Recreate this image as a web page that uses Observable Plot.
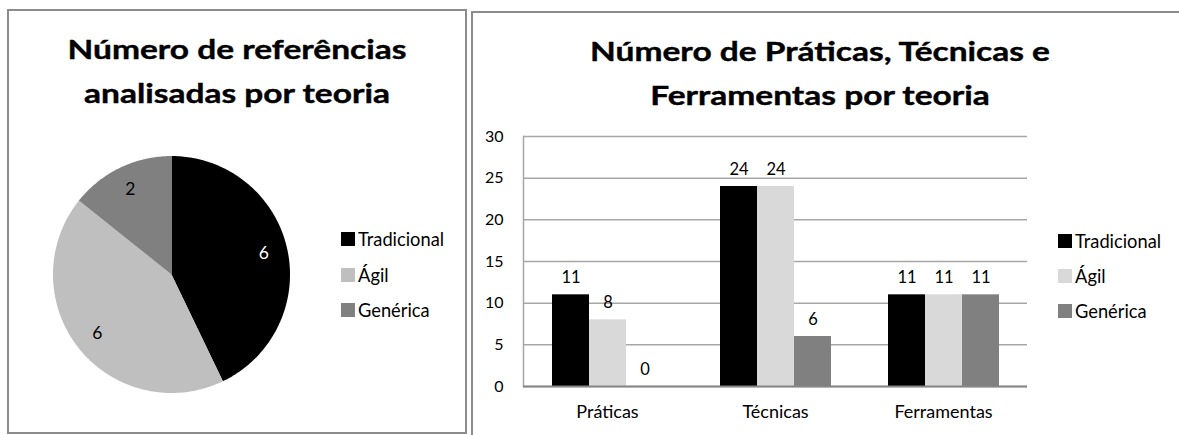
<!DOCTYPE html>
<html>
<head>
<meta charset="utf-8">
<script src="https://cdn.jsdelivr.net/npm/d3@7"></script>
<script src="https://cdn.jsdelivr.net/npm/@observablehq/plot@0.6"></script>
<style>
  html, body { margin: 0; padding: 0; background: #fff; }
  body { width: 1179px; height: 435px; overflow: hidden; position: relative; font-family: Lato, "Open Sans", sans-serif; color: #000; }
  .panel { position: absolute; box-sizing: border-box; border: 2px solid #8c8c8c; }
  .title { position: absolute; text-align: center; font-weight: bold; font-size: 27px; line-height: 44px; white-space: nowrap; transform: scaleX(1.24); transform-origin: center; -webkit-text-stroke: 0.4px #000; }
  .legend { position: absolute; font-size: 18.3px; }
  .legend .item { position: absolute; left: 0; display: flex; align-items: center; white-space: nowrap; height: 20px; }
  .legend .sw { width: 14px; height: 14px; margin-right: 3px; }
  .chart { position: absolute; }
</style>
</head>
<body>
<div class="panel" style="left:7px; top:9px; width:460px; height:425px;"></div>
<div class="panel" style="left:471px; top:11px; width:800px; height:500px;"></div>

<div class="title" style="left:7px; width:460px; top:27px;">Número de referências<br>analisadas por teoria</div>
<div class="title" style="left:620px; width:400px; top:29px;">Número de Práticas, Técnicas e<br>Ferramentas por teoria</div>

<div id="pie" class="chart"></div>
<div id="pieLegend" class="legend" style="left:341px; top:229px;"></div>
<div id="bar" class="chart"></div>
<div id="barLegend" class="legend" style="left:1058px; top:231px;"></div>

<script>
// ---- Data ----
const pieSeries = ["Tradicional", "Ágil", "Genérica"];
const pieValues = [6, 6, 2];

const barCategories = ["Práticas", "Técnicas", "Ferramentas"];
const barSeries = ["Tradicional", "Ágil", "Genérica"];
const tradicionalValues = [11, 24, 11];
const agilValues = [8, 24, 11];
const genericaValues = [0, 6, 11];
const yTicks = [0, 5, 10, 15, 20, 25, 30];

// ---- Styles ----
const pieColors = ["#000000", "#bfbfbf", "#808080"];
const barColors = ["#000000", "#d9d9d9", "#808080"];
const FONT = "Lato, 'Open Sans', sans-serif";

// ---- Pie chart ----
const pieRows = pieSeries.map((k, i) => ({key: k, value: pieValues[i]}));
const arcs = d3.pie().sort(null).value(d => d.value)(pieRows);
const slicePoints = [];
const pieLabels = [];
arcs.forEach(a => {
  const key = a.data.key;
  slicePoints.push({key, x: 0, y: 0});
  const n = Math.max(2, Math.ceil((a.endAngle - a.startAngle) / (Math.PI / 180)));
  for (let i = 0; i <= n; i++) {
    const t = a.startAngle + (a.endAngle - a.startAngle) * i / n;
    slicePoints.push({key, x: Math.sin(t), y: Math.cos(t)});
  }
  const mid = (a.startAngle + a.endAngle) / 2;
  pieLabels.push({key, value: a.data.value, x: 0.8 * Math.sin(mid), y: 0.8 * Math.cos(mid)});
});

const R = 118.5, S = 240, C = S / 2;
const pie = Plot.plot({
  width: S, height: S, margin: 0,
  style: {fontFamily: FONT, fontSize: "17px", background: "transparent", overflow: "visible"},
  x: {domain: [-1, 1], range: [C - R, C + R], axis: null},
  y: {domain: [-1, 1], range: [C + R, C - R], axis: null},
  color: {domain: pieSeries, range: pieColors},
  marks: [
    Plot.line(slicePoints, {x: "x", y: "y", z: "key", fill: "key", stroke: "none", curve: "linear-closed"}),
    ...pieLabels.map(l => Plot.text([l], {x: "x", y: "y", text: d => String(d.value), fill: l.key === "Tradicional" ? "#ffffff" : "#000000", fontSize: 17.5}))
  ]
});
const pieDiv = document.getElementById("pie");
pieDiv.style.left = (170.5 - C) + "px";
pieDiv.style.top = (273.5 - C) + "px";
pieDiv.appendChild(pie);

// ---- Bar chart ----
const seriesValues = [tradicionalValues, agilValues, genericaValues];
const barRows = barCategories.flatMap((c, i) => barSeries.map((s, j) => ({category: c, series: s, value: seriesValues[j][i]})));

const bar = Plot.plot({
  width: 560, height: 310,
  marginLeft: 51, marginRight: 5, marginTop: 16, marginBottom: 44,
  style: {fontFamily: FONT, fontSize: "16px", background: "transparent", color: "#000", overflow: "visible"},
  fx: {domain: barCategories, padding: 0, label: null, axis: null},
  x: {domain: barSeries, paddingInner: 0, paddingOuter: 0.75, axis: null},
  y: {domain: [0, 30], ticks: yTicks, label: null, tickSize: 0, tickPadding: 20},
  color: {domain: barSeries, range: barColors},
  marks: [
    Plot.gridY(yTicks, {stroke: "#a6a6a6", strokeOpacity: 1, strokeWidth: 1.5}),
    Plot.frame({anchor: "left", facetAnchor: "left", stroke: "#a6a6a6", strokeWidth: 1.5}),
    Plot.barY(barRows, {fx: "category", x: "series", y: "value", fill: "series"}),
    Plot.ruleY([0], {stroke: "#868686", strokeWidth: 2}),
    Plot.text(barRows, {fx: "category", x: "series", y: "value", text: d => String(d.value), dy: -17, fontSize: 16.5, fill: "#000"}),
    Plot.axisFx({anchor: "bottom", tickSize: 0, tickPadding: 19, fontSize: 18, label: null})
  ]
});
const barDiv = document.getElementById("bar");
barDiv.style.left = "472px";
barDiv.style.top = "120px";
barDiv.appendChild(bar);

// ---- Legends ----
function legend(id, colors, spacing) {
  const el = document.getElementById(id);
  pieSeries.forEach((s, i) => {
    const item = document.createElement("div");
    item.className = "item";
    item.style.top = (i * spacing) + "px";
    const sw = document.createElement("span");
    sw.className = "sw";
    sw.style.background = colors[i];
    const tx = document.createElement("span");
    tx.textContent = s;
    item.appendChild(sw);
    item.appendChild(tx);
    el.appendChild(item);
  });
}
legend("pieLegend", pieColors, 35.5);
legend("barLegend", barColors, 35);
</script>
</body>
</html>
